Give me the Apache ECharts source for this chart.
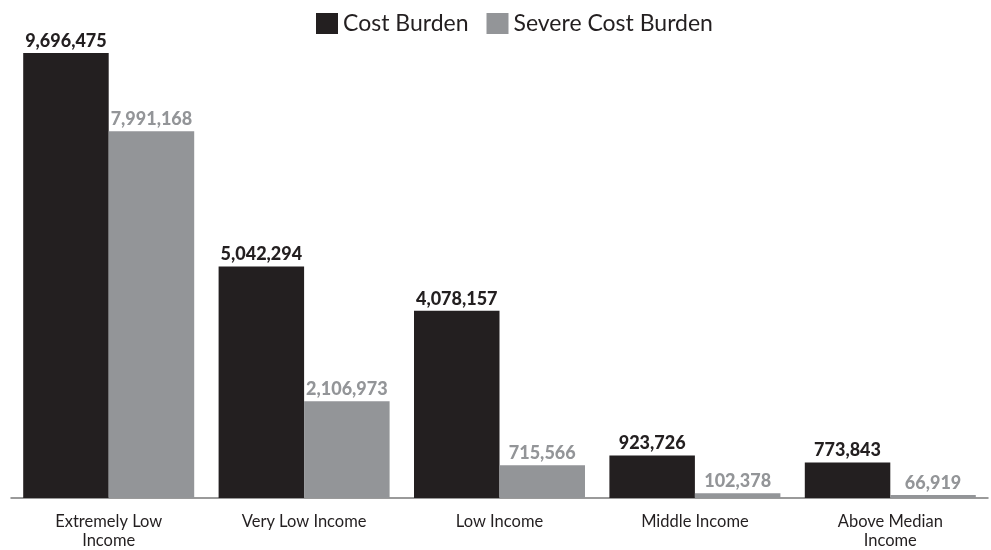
<!DOCTYPE html>
<html>
<head>
<meta charset="utf-8">
<script src="https://cdn.jsdelivr.net/npm/echarts@6/dist/echarts.min.js"></script>
<style>html,body{margin:0;padding:0;background:#fff}#c{width:991px;height:550px}</style>
</head>
<body>
<div id="c"></div>
<script>
const categories = ["Extremely Low\nIncome", "Very Low Income", "Low Income", "Middle Income", "Above Median\nIncome"];
const costBurden = [9696475, 5042294, 4078157, 923726, 773843];
const severeCostBurden = [7991168, 2106973, 715566, 102378, 66919];
const seriesNames = ["Cost Burden", "Severe Cost Burden"];

const FONT = "Lato";
const fmt = v => v.value.toLocaleString("en-US");
const chart = echarts.init(document.getElementById("c"), null, {renderer: "canvas"});
chart.setOption({
  animation: false,
  textStyle: {fontFamily: FONT},
  legend: {
    data: seriesNames,
    top: 12,
    left: 316,
    padding: 0,
    itemWidth: 22,
    itemHeight: 21,
    itemGap: 18,
    icon: "rect",
    textStyle: {fontSize: 23, fontWeight: 400, color: "#231f20", fontFamily: FONT}
  },
  grid: {left: 11, right: 3, top: 39, bottom: 48, containLabel: false},
  xAxis: {
    type: "category",
    data: categories,
    axisLine: {lineStyle: {color: "#7a7a7a", width: 1.5}},
    axisTick: {show: false},
    axisLabel: {fontSize: 16.5, fontWeight: 400, color: "#231f20", margin: 14, lineHeight: 19, fontFamily: FONT, interval: 0}
  },
  yAxis: {
    type: "value",
    min: 0,
    max: 10000000,
    show: false,
    splitLine: {show: false}
  },
  series: [
    {
      name: seriesNames[0],
      type: "bar",
      data: costBurden,
      barWidth: 85.5,
      barGap: "0%",
      itemStyle: {color: "#231f20"},
      label: {show: true, position: "top", distance: 3, formatter: fmt, fontSize: 18, fontWeight: 900, color: "#231f20", fontFamily: FONT}
    },
    {
      name: seriesNames[1],
      type: "bar",
      data: severeCostBurden,
      barWidth: 85.5,
      barGap: "0%",
      itemStyle: {color: "#939598"},
      label: {show: true, position: "top", distance: 3, formatter: fmt, fontSize: 18, fontWeight: 900, color: "#939598", fontFamily: FONT}
    }
  ]
});
</script>
</body>
</html>
